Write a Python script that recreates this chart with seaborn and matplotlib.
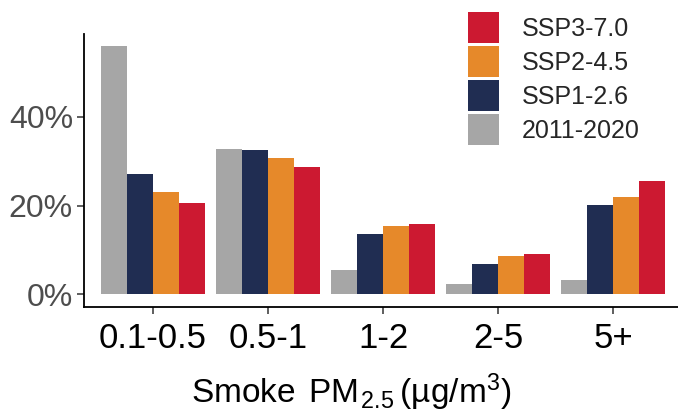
import matplotlib
matplotlib.use("Agg")
import matplotlib.pyplot as plt
import seaborn as sns
import pandas as pd

categories = ["0.1-0.5", "0.5-1", "1-2", "2-5", "5+"]
scenarios = ["2011-2020", "SSP1-2.6", "SSP2-4.5", "SSP3-7.0"]
hist_2011_2020 = [56.1, 32.8, 5.5, 2.3, 3.2]
ssp126 = [27.1, 32.5, 13.6, 6.8, 20.1]
ssp245 = [23.1, 30.7, 15.4, 8.6, 21.9]
ssp370 = [20.6, 28.7, 15.9, 9.1, 25.5]
colors = ["#A6A6A6", "#202D52", "#E6892A", "#CC1931"]
yticks = [0, 20, 40]

sns.set_theme(style="white")
plt.rcParams["font.family"] = ["Liberation Sans", "DejaVu Sans"]
plt.rcParams["mathtext.fontset"] = "custom"
plt.rcParams["mathtext.rm"] = "Liberation Sans"
plt.rcParams["mathtext.it"] = "Liberation Sans"
plt.rcParams["mathtext.default"] = "regular"

rows = []
for s, vals in zip(scenarios, [hist_2011_2020, ssp126, ssp245, ssp370]):
    for c, v in zip(categories, vals):
        rows.append({"cat": c, "scen": s, "val": v})
df = pd.DataFrame(rows)

fig = plt.figure(figsize=(6.78, 4.13), dpi=100)
ax = fig.add_axes([84 / 678, 106.3 / 413, 1 - 84 / 678, (306.7 - 34) / 413])

sns.barplot(data=df, x="cat", y="val", hue="scen", order=categories,
            hue_order=scenarios, palette=colors, width=0.9, errorbar=None,
            saturation=1, linewidth=0, ax=ax)

ax.set_xlim(-0.6, 4.565)
ax.set_ylim(-2.8, 58.7)
ax.set_yticks(yticks)
ax.set_yticklabels([f"{t}%" for t in yticks])
ax.tick_params(axis="y", labelsize=23, labelcolor="#4D4D4D", length=5,
               width=1.1, color="#333333", pad=3, left=True)
ax.tick_params(axis="x", labelsize=25, labelcolor="black", length=5,
               width=1.1, color="#333333", pad=6, bottom=True)
for sp in ["top", "right"]:
    ax.spines[sp].set_visible(False)
for sp in ["left", "bottom"]:
    ax.spines[sp].set_color("black")
    ax.spines[sp].set_linewidth(1.3)
ax.set_ylabel("")
ax.set_xlabel("Smoke $\\hspace{0.15}$PM$\\hspace{0.08}{}_{2.5}\\hspace{0.2}$(µg/m$^{3}$)",
              fontsize=24, color="black")
ax.xaxis.set_label_coords((351.5 - 84) / 594, -(403 - 306.7) / 272.7)
ax.xaxis.label.set_va("baseline")

handles, labels = ax.get_legend_handles_labels()
ax.legend(handles[::-1], labels[::-1], frameon=False, fontsize=18,
          loc="upper left", bbox_to_anchor=(468 / 678, 1 - 12 / 413),
          bbox_transform=fig.transFigure, borderpad=0, borderaxespad=0,
          handlelength=1.24, handleheight=1.53, labelspacing=0.12,
          handletextpad=0.9)

fig.savefig("out.png", dpi=100)
